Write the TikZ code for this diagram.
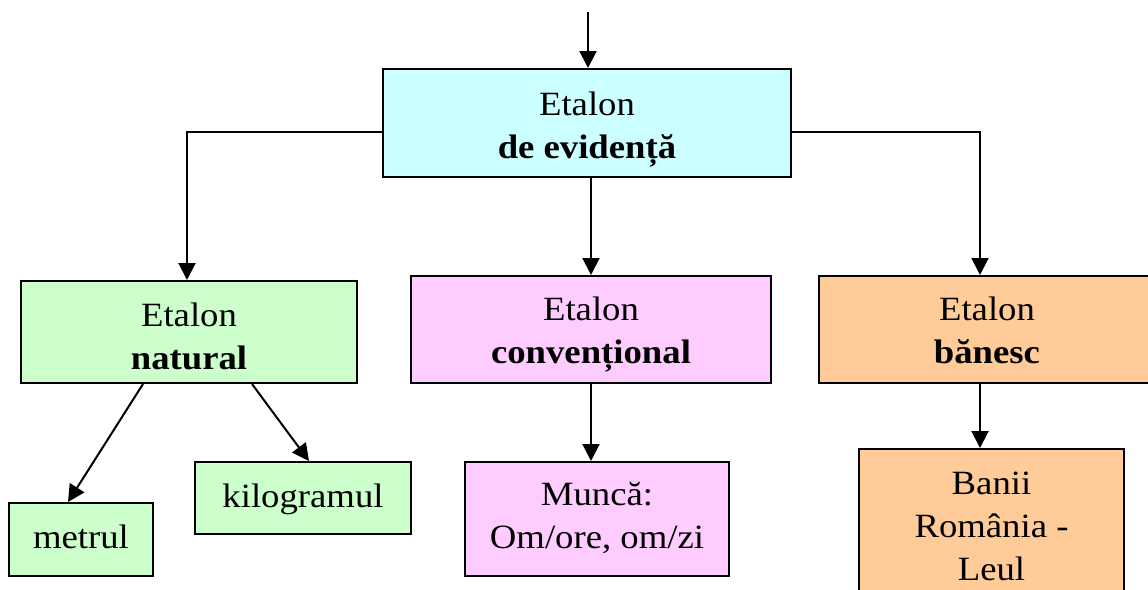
\documentclass[tikz,border=0pt]{standalone}
\usepackage{fontspec}
\setmainfont{Liberation Serif}[FakeStretch=1.08]
\usetikzlibrary{arrows.meta,calc}
\definecolor{cyanfill}{HTML}{CCFFFF}
\definecolor{greenfill}{HTML}{CCFFCC}
\definecolor{pinkfill}{HTML}{FFCCFF}
\definecolor{orangefill}{HTML}{FFCC99}
\newcommand{\mylines}[1]{\begin{tabular}[t]{@{}c@{}}#1\end{tabular}}
\tikzset{
  box/.style={draw=black, line width=2pt, inner sep=0pt,
    font=\fontsize{34}{43}\selectfont, text height=30pt, text depth=#1},
  conn/.style={line width=2pt, -{Triangle[length=17pt,width=17pt]}}
}
\begin{document}
\begin{tikzpicture}[x=1pt,y=-1pt]
\useasboundingbox (0,0) rectangle (1148,589);
\clip (0,0) rectangle (1148,589);
\node[box=46pt, fill=cyanfill, minimum width=408pt, minimum height=108pt] (top) at (587,123) {\mylines{Etalon\\\textbf{de evidență}}};
\node[box=42pt, fill=greenfill, minimum width=336pt, minimum height=102pt] (nat) at (189,332) {\mylines{Etalon\\\textbf{natural}}};
\node[box=49pt, fill=pinkfill, minimum width=360pt, minimum height=107pt] (conv) at (591,329.5) {\mylines{Etalon\\\textbf{convențional}}};
\node[box=48pt, fill=orangefill, minimum width=336pt, minimum height=107pt] (ban) at (987,329.5) {\mylines{Etalon\\\textbf{bănesc}}};
\node[box=13pt, fill=greenfill, minimum width=144pt, minimum height=73pt] (met) at (81,539.5) {\mylines{metrul}};
\node[box=12pt, fill=greenfill, minimum width=216pt, minimum height=72pt] (kil) at (303,498) {\mylines{kilogramul}};
\node[box=58pt, fill=pinkfill, minimum width=264pt, minimum height=114pt] (mun) at (597,519) {\mylines{Muncă:\\Om/ore, om/zi}};
\node[box=98pt, fill=orangefill, minimum width=265pt, minimum height=158pt] (banii) at (991.5,528) {\mylines{Banii\\România -\\Leul}};
\coordinate (start) at (588,12);
\draw[conn] (start) -- (start |- top.north);
\draw[conn] ($(top.west)+(0,9)$) -| (187,0 |- nat.north);
\draw[conn] ($(top.east)+(0,9)$) -| (980,0 |- ban.north);
\draw[conn] (top.south -| conv.north) -- (conv.north);
\draw[conn] ($(nat.south)+(-46,0)$) -- ($(met.north)+(-13,0)$);
\draw[conn] ($(nat.south)+(63,0)$) -- ($(kil.north)+(6,0)$);
\draw[conn] (conv.south) -- (conv.south |- mun.north);
\draw[conn] ($(ban.south)+(-7,0)$) -- ($(ban.south |- banii.north)+(-7,0)$);
\end{tikzpicture}
\end{document}
